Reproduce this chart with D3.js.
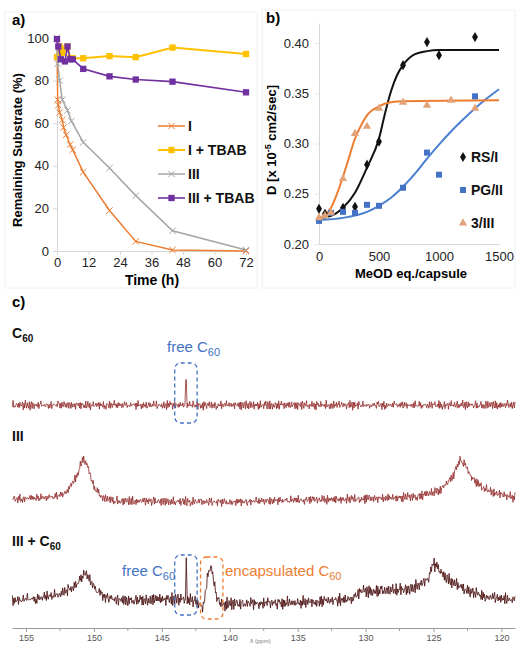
<!DOCTYPE html>
<html>
<head>
<meta charset="utf-8">
<script src="https://cdn.jsdelivr.net/npm/d3@7"></script>
<style>
  body { margin: 0; background: #fff; }
  svg { display: block; font-family: "Liberation Sans", Arial, sans-serif; }
</style>
</head>
<body>
<svg id="fig" width="519" height="645"></svg>
<script>
// ---- panel a : remaining substrate vs time ----
const timeI = [0, 0.25, 0.5, 1, 2, 2.5, 3.5, 5, 6, 10, 20, 30, 44, 72];
const valI = [100, 71, 68.5, 65, 61.5, 58, 54.5, 50, 47.5, 37, 19, 4.5, 0.5, 0];
const timeITBAB = [0, 1, 2, 3, 4, 5, 6, 10, 20, 30, 44, 72];
const valITBAB = [91, 96, 93, 95, 96, 90.5, 90.5, 90.5, 91.5, 91, 95.5, 92.5];
const timeIII = [0, 0.25, 1, 2, 4, 5.5, 10, 20, 30, 44, 72];
const valIII = [100, 88, 80, 71, 66, 61, 51, 39, 26, 9.5, 0.5];
const timeIIITBAB = [0, 0.5, 1.5, 3, 4, 5, 6, 10, 20, 30, 44, 72];
const valIIITBAB = [99.5, 96, 90, 89, 96, 90, 90, 85.5, 82, 80.5, 79.5, 74.5];
const timeTicks = [0, 12, 24, 36, 48, 60, 72];
const pctTicks = [0, 20, 40, 60, 80, 100];
const seriesA = ["I", "I + TBAB", "III", "III + TBAB"];

// ---- panel b : diffusion vs MeOD equivalents ----
const eqRS = [0, 50, 200, 300, 400, 500, 700, 900, 1000, 1300];
const dRS = [0.235, 0.230, 0.236, 0.237, 0.279, 0.302, 0.378, 0.401, 0.388, 0.406];
const eqPG = [0, 100, 200, 300, 400, 500, 700, 900, 1000, 1300];
const dPG = [0.223, 0.231, 0.232, 0.231, 0.239, 0.238, 0.256, 0.291, 0.269, 0.347];
const eq3 = [0, 50, 100, 200, 300, 400, 500, 700, 900, 1100, 1300];
const d3III = [0.226, 0.228, 0.231, 0.265, 0.310, 0.317, 0.335, 0.341, 0.338, 0.343, 0.335];
// fitted curves
const fitEqRS = [0, 100, 200, 300, 400, 500, 550, 600, 650, 700, 800, 900, 1000, 1500];
const fitRS = [0.226, 0.228, 0.236, 0.251, 0.276, 0.305, 0.330, 0.352, 0.368, 0.378, 0.389, 0.392, 0.393, 0.393];
const fitEqPG = [0, 200, 400, 500, 600, 700, 800, 900, 1000, 1100, 1200, 1300, 1400, 1500];
const fitPG = [0.224, 0.226, 0.232, 0.238, 0.246, 0.257, 0.270, 0.285, 0.299, 0.312, 0.324, 0.335, 0.345, 0.354];
const fitEq3 = [0, 50, 100, 150, 200, 250, 300, 350, 400, 500, 600, 700, 1500];
const fit3 = [0.226, 0.229, 0.236, 0.250, 0.267, 0.286, 0.305, 0.318, 0.328, 0.337, 0.341, 0.342, 0.343];
const eqTicks = [0, 500, 1000, 1500];
const dTicks = [0.20, 0.25, 0.30, 0.35, 0.40];
const seriesB = ["RS/I", "PG/II", "3/III"];

// ---- panel c : 13C spectra (ppm, intensity envelope) ----
const ppmTicks = [155, 150, 145, 140, 135, 130, 125, 120];
const ppmMinor = [152.5, 147.5, 142.5, 137.5, 132.5, 127.5, 122.5];
const specC60Ppm = [156, 143.3, 143.22, 143.14, 119];
const specC60Int = [0, 0, 50, 0, 0];
const specIIIPpm = [156, 153, 152, 151.3, 150.8, 150.4, 150, 149.4, 148.5, 140, 136, 131, 128, 126, 124.5, 123.6, 123.1, 122.7, 122.2, 121.5, 120.5, 119];
const specIIIInt = [5, 8, 17, 42, 73, 55, 25, 8, 2, 0, 3, 5, 7, 10, 20, 42, 70, 63, 42, 25, 15, 8];
const specMixPpm = [156, 154, 152.5, 151.5, 151, 150.6, 150.2, 149.8, 149.2, 148, 146, 144.5, 143.6, 143.27, 143.2, 143.13, 142.6, 142, 141.8, 141.6, 141.4, 141.15, 140.9, 140.5, 139.5, 136, 133, 131, 130.4, 129, 127, 126, 125.4, 125, 124.7, 124, 123, 122, 121, 119];
const specMixInt = [5, 8, 15, 27, 40, 50, 37, 20, 10, 5, 5, 7, 7, 7, 68, 7, 3, -5, 13, 50, 60, 33, 5, -3, 0, 0, 3, 7, 20, 20, 23, 30, 42, 67, 58, 40, 27, 17, 10, 5];
// hand-typed noise texture for the spectra
const jitter = [0.3, -0.8, 0.6, -0.2, 0.9, -0.5, 0.1, -0.9, 0.7, -0.3, 0.4, -0.7, 0.8, -0.1, 0.2, -0.6, 1.0, -0.4, 0.5, -1.0,
  0.3, 0.7, -0.5, -0.2, 0.6, -0.8, 0.9, 0.0, -0.4, 0.8, -0.9, 0.2, 0.5, -0.3, -0.7, 0.9, -0.1, 0.4, -0.6, 0.7,
  -0.2, 0.1, -0.9, 0.6, 0.3, -0.5, 0.8, -0.4, -0.1, 0.9, -0.7, 0.2, -0.3, 0.6, -0.8, 0.5, 0.0, -0.6, 1.0, -0.2,
  0.3, -0.9, 0.7, -0.4, 0.4, -0.1, 0.8, -0.7, 0.1, -0.5, 0.6, -0.3, 0.9, -0.8, 0.2, 0.5, -0.6, -0.2, 0.7, -0.9,
  0.3, 0.4, -0.4, 0.8, -0.1, -0.7, 0.6, -0.5, 0.1];

const orange = "#ED7D31", yellow = "#FFC000", gray = "#A5A5A5", purple = "#7030A0";
const blue = "#4472C4", tan = "#E2A37A";

const svg = d3.select("#fig");

// faint panel frames
svg.append("rect").attr("x", 5).attr("y", 12).attr("width", 252).attr("height", 276)
  .attr("fill", "none").attr("stroke", "#f0f0f0");
svg.append("rect").attr("x", 262).attr("y", 10).attr("width", 253).attr("height", 278)
  .attr("fill", "none").attr("stroke", "#f0f0f0");

function styleAxis(g, col, fs, tcol) {
  g.select(".domain").attr("stroke", col);
  g.selectAll(".tick line").attr("stroke", col);
  g.selectAll(".tick text").attr("fill", tcol).style("font-size", fs + "px")
    .style("font-family", '"Liberation Sans", Arial, sans-serif');
}

// ================= panel a =================
const xa = d3.scaleLinear().domain([0, 72]).range([57, 246]);
const ya = d3.scaleLinear().domain([0, 100]).range([251, 38]);

const gxa = svg.append("g").attr("transform", "translate(0,251)")
  .call(d3.axisBottom(xa).tickValues(timeTicks).tickSize(4).tickSizeOuter(0).tickPadding(3));
styleAxis(gxa, "#d6d6d6", 13, "#222");
const gya = svg.append("g").attr("transform", "translate(57,0)")
  .call(d3.axisLeft(ya).tickValues(pctTicks).tickSize(4).tickSizeOuter(0).tickPadding(4));
styleAxis(gya, "#d6d6d6", 13, "#222");

svg.append("text").attr("x", 12).attr("y", 25).text("a)")
  .style("font-weight", "bold").style("font-size", "15px");
svg.append("text").attr("transform", "translate(22,150) rotate(-90)")
  .attr("text-anchor", "middle").text("Remaining Substrate (%)")
  .style("font-weight", "bold").style("font-size", "13px");
svg.append("text").attr("x", 152).attr("y", 285).attr("text-anchor", "middle").text("Time (h)")
  .style("font-weight", "bold").style("font-size", "14px");

const lineA = d3.line().x(d => xa(d[0])).y(d => ya(d[1]));
const dataA = [
  { pts: d3.zip(timeI, valI), col: orange, mark: "x", w: 1.5 },
  { pts: d3.zip(timeITBAB, valITBAB), col: yellow, mark: "sq", w: 2 },
  { pts: d3.zip(timeIII, valIII), col: gray, mark: "x", w: 1.5 },
  { pts: d3.zip(timeIIITBAB, valIIITBAB), col: purple, mark: "sq", w: 1.6 }
];
const xSym = d3.symbol(d3.symbolTimes, 28);
const sqSym = d3.symbol(d3.symbolSquare, 40);

function drawMarker(g, kind, col, x, y) {
  if (kind === "x") {
    g.append("path").attr("d", xSym()).attr("transform", `translate(${x},${y})`)
      .attr("fill", "none").attr("stroke", col).attr("stroke-width", 1);
  } else {
    g.append("path").attr("d", sqSym()).attr("transform", `translate(${x},${y})`)
      .attr("fill", col);
  }
}

dataA.forEach(s => {
  const g = svg.append("g");
  g.append("path").attr("d", lineA(s.pts)).attr("fill", "none")
    .attr("stroke", s.col).attr("stroke-width", s.w);
  s.pts.forEach(p => drawMarker(g, s.mark, s.col, xa(p[0]), ya(p[1])));
});

// legend a
seriesA.forEach((name, i) => {
  const y = 126 + i * 24;
  const s = dataA[i];
  const g = svg.append("g");
  g.append("line").attr("x1", 158).attr("x2", 185).attr("y1", y).attr("y2", y)
    .attr("stroke", s.col).attr("stroke-width", s.w);
  drawMarker(g, s.mark, s.col, 171.5, y);
  g.append("text").attr("x", 188).attr("y", y + 5).text(name)
    .style("font-weight", "bold").style("font-size", "14px").attr("fill", "#111");
});

// ================= panel b =================
const xb = d3.scaleLinear().domain([0, 1500]).range([319, 499]);
const yb = d3.scaleLinear().domain([0.2, 0.42]).range([244, 23]);

const gxb = svg.append("g").attr("transform", "translate(0,244)")
  .call(d3.axisBottom(xb).tickValues(eqTicks).tickFormat(d3.format("d")).tickSize(0).tickSizeOuter(0).tickPadding(8));
styleAxis(gxb, "#d6d6d6", 13, "#222");
const gyb = svg.append("g").attr("transform", "translate(319,0)")
  .call(d3.axisLeft(yb).tickValues(dTicks).tickFormat(d3.format(".2f")).tickSize(4).tickSizeOuter(0).tickPadding(6));
styleAxis(gyb, "#d6d6d6", 13, "#222");
gyb.selectAll(".tick line").attr("stroke", "#e6e6e6");

svg.append("text").attr("x", 266).attr("y", 23).text("b)")
  .style("font-weight", "bold").style("font-size", "15px");
svg.append("text").attr("x", 411).attr("y", 278).attr("text-anchor", "middle").text("MeOD eq./capsule")
  .style("font-weight", "bold").style("font-size", "13px");
const yl = svg.append("text").attr("transform", "translate(276,140) rotate(-90)")
  .attr("text-anchor", "middle").style("font-weight", "bold").style("font-size", "13px");
yl.append("tspan").text("D [x 10");
yl.append("tspan").attr("dy", -5).style("font-size", "9px").text("-5");
yl.append("tspan").attr("dy", 5).text(" cm2/sec]");

const lineB = d3.line().x(d => xb(d[0])).y(d => yb(d[1])).curve(d3.curveMonotoneX);
const dataB = [
  { pts: d3.zip(eqRS, dRS), fit: d3.zip(fitEqRS, fitRS), line: "#111", col: "#111", sym: d3.symbolDiamond, size: 30 },
  { pts: d3.zip(eqPG, dPG), fit: d3.zip(fitEqPG, fitPG), line: "#4a80d0", col: blue, sym: d3.symbolSquare, size: 36 },
  { pts: d3.zip(eq3, d3III), fit: d3.zip(fitEq3, fit3), line: orange, col: tan, sym: d3.symbolTriangle, size: 30 }
];
dataB.forEach(s => {
  svg.append("path").attr("d", lineB(s.fit)).attr("fill", "none")
    .attr("stroke", s.line).attr("stroke-width", 2);
});
dataB.forEach(s => {
  svg.append("g").selectAll("path").data(s.pts).join("path")
    .attr("d", d3.symbol(s.sym, s.size)())
    .attr("transform", d => `translate(${xb(d[0])},${yb(d[1])})`)
    .attr("fill", s.col);
});

// legend b
seriesB.forEach((name, i) => {
  const y = 157 + i * 33;
  const s = dataB[i];
  svg.append("path").attr("d", d3.symbol(s.sym, s.size)())
    .attr("transform", `translate(463,${y})`).attr("fill", s.col);
  svg.append("text").attr("x", 471).attr("y", y + 5).text(name)
    .style("font-weight", "bold").style("font-size", "14px").attr("fill", "#111");
});

// ================= panel c =================
const xc = d3.scaleLinear().domain([156.03, 119.0]).range([12, 515]);

const gxc = svg.append("g").attr("transform", "translate(0,628)")
  .call(d3.axisBottom(xc).tickValues(ppmTicks).tickSize(4).tickSizeOuter(0).tickPadding(3));
styleAxis(gxc, "#9a9a9a", 9, "#555");
svg.append("g").selectAll("line").data(ppmMinor).join("line")
  .attr("x1", d => xc(d)).attr("x2", d => xc(d)).attr("y1", 628).attr("y2", 631)
  .attr("stroke", "#9a9a9a");
svg.append("text").attr("x", 250).attr("y", 643).text("δ (ppm)")
  .style("font-size", "6px").attr("fill", "#777");

svg.append("text").attr("x", 12).attr("y", 307).text("c)")
  .style("font-weight", "bold").style("font-size", "15px");

function label(x, y, main, sub, size, col, bold) {
  const t = svg.append("text").attr("x", x).attr("y", y).attr("fill", col)
    .style("font-size", size + "px").style("font-weight", bold ? "bold" : "normal");
  t.append("tspan").text(main);
  if (sub) t.append("tspan").attr("dy", 4).style("font-size", (size - 4) + "px").text(sub);
  return t;
}
label(12, 338, "C", "60", 14, "#111", true);
label(12, 441, "III", null, 14, "#111", true);
label(12, 546, "III + C", "60", 14, "#111", true);
label(167, 352, "free C", "60", 15, blue, false);
label(122, 576, "free C", "60", 15, blue, false);
label(225, 576, "encapsulated C", "60", 15, orange, false);

// spectra
const grid = d3.range(156.0, 119.0, -0.05);
const spectra = [
  { ppm: specC60Ppm, inten: specC60Int, base: 405, amp: 5.5, off: 0, col: "#8e2222", w: 0.9 },
  { ppm: specIIIPpm, inten: specIIIInt, base: 502, amp: 5.5, off: 31, col: "#8e2222", w: 0.9 },
  { ppm: specMixPpm, inten: specMixInt, base: 603, amp: 7.5, off: 57, col: "#4c1414", w: 1 }
];
spectra.forEach(s => {
  const env = d3.scaleLinear().domain(s.ppm.slice().reverse()).range(s.inten.slice().reverse());
  const yS = d3.scaleLinear().domain([0, 100]).range([s.base, s.base - 60]);
  const xs = Array.from(new Set(grid.concat(s.ppm))).sort((a, b) => b - a);
  const n = jitter.length;
  const pts = xs.map((p, i) => {
    const nz = 0.6 * jitter[(i + s.off) % n] + 0.4 * jitter[(i * 7 + s.off) % 83];
    return [xc(p), yS(env(p)) + nz * s.amp];
  });
  svg.append("path").attr("d", d3.line()(pts)).attr("fill", "none")
    .attr("stroke", s.col).attr("stroke-width", s.w).attr("stroke-opacity", 0.85);
});

// dashed boxes
const boxes = [
  { x0: 144.05, x1: 142.4, y0: 363, y1: 423, col: blue },
  { x0: 144.05, x1: 142.4, y0: 555, y1: 615, col: blue },
  { x0: 142.15, x1: 140.5, y0: 557, y1: 619, col: orange }
];
boxes.forEach(b => {
  svg.append("rect").attr("x", xc(b.x0)).attr("y", b.y0)
    .attr("width", xc(b.x1) - xc(b.x0)).attr("height", b.y1 - b.y0)
    .attr("rx", 6).attr("fill", "none").attr("stroke", b.col)
    .attr("stroke-width", 1.3).attr("stroke-dasharray", "4,3");
});
</script>
</body>
</html>
